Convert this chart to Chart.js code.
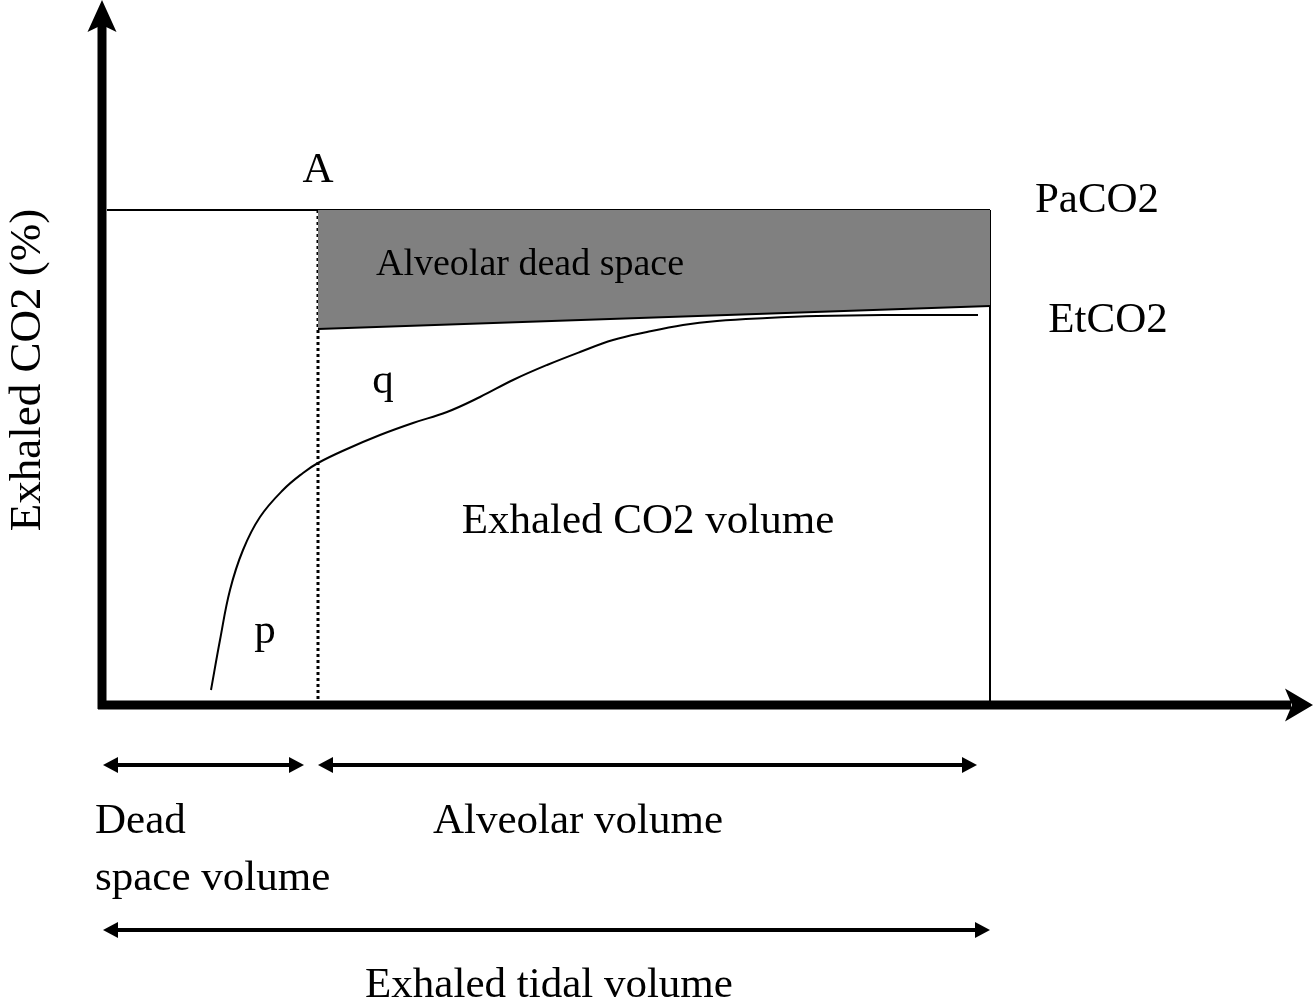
<!DOCTYPE html>
<html>
<head>
<title>exhaled_co2_diagram</title>
<script src="https://cdn.jsdelivr.net/npm/chart.js"></script>
<style>
    body { margin: 0; background: #fff; }
    #wrap { width: 1313px; height: 1000px; }
</style>
</head>
<body>
<div id="wrap"><canvas id="chartCanvas"></canvas></div>
<script>
// exhaled volume (x) vs exhaled CO2 (y), arbitrary units
const curveVolume = [11.1, 12.0, 13.0, 14.3, 16.0, 18.3, 20.3, 21.8, 24.7, 28.0, 31.3, 34.7, 38.0, 41.3, 44.7, 48.0, 51.3, 54.7, 58.3, 61.7, 66.7, 71.7, 78.3, 87.8];
const curveCO2    = [1.5, 6.5, 11.5, 15.5, 18.8, 21.5, 23.2, 24.2, 25.6, 27.0, 28.2, 29.3, 30.8, 32.5, 34.0, 35.3, 36.5, 37.3, 38.0, 38.4, 38.7, 38.9, 39.0, 39.0];

const deadSpaceVolume = 21.8;
const tidalVolume = 89;
const paCO2 = 49.5;
const etCO2Edge = [37.6, 39.9];   // lower edge of the alveolar dead space, start / end

// volume spans shown with double arrows under the axis
const spanFrom = [0.3, 21.8, 0.3];
const spanTo   = [20.4, 87.7, 89];

const axisTitle = 'Exhaled CO2 (%)';

const chartCanvas = document.getElementById('chartCanvas');
const FONT = '"Liberation Serif", "Times New Roman", serif';

function line(points, extra) {
    return Object.assign({
        data: points,
        showLine: true,
        borderColor: '#000',
        borderWidth: 2,
        pointRadius: 0,
        fill: false,
        clip: false
    }, extra);
}

function arrowHead(ctx, tx, ty, dx, dy, len, half, notch) {
    // dx, dy: unit direction the arrow points to
    const bx = tx - dx * len, by = ty - dy * len;
    const nx = -dy, ny = dx;
    ctx.beginPath();
    ctx.moveTo(tx, ty);
    ctx.lineTo(bx + nx * half, by + ny * half);
    ctx.lineTo(tx - dx * (len - notch), ty - dy * (len - notch));
    ctx.lineTo(bx - nx * half, by - ny * half);
    ctx.closePath();
    ctx.fill();
}

const diagramPlugin = {
    id: 'diagram',
    afterDatasetsDraw(chart) {
        const { ctx, scales: { x, y } } = chart;
        ctx.save();
        ctx.fillStyle = '#000';
        ctx.strokeStyle = '#000';

        // axes
        const ax = x.getPixelForValue(0.2);
        const ay = y.getPixelForValue(0);
        const yTip = y.getPixelForValue(70.5);
        const xTip = x.getPixelForValue(121.3);
        ctx.lineWidth = 9;
        ctx.beginPath();
        ctx.moveTo(ax, ay + 4);
        ctx.lineTo(ax, yTip + 25);
        ctx.stroke();
        arrowHead(ctx, ax, yTip, 0, -1, 32, 14.5, 7);
        ctx.beginPath();
        ctx.moveTo(ax - 4, ay);
        ctx.lineTo(xTip - 22, ay);
        ctx.stroke();
        arrowHead(ctx, xTip, ay, 1, 0, 28, 16.5, 7);

        // volume span arrows
        const rows = [-6, -6, -22.5];
        ctx.lineWidth = 4;
        spanFrom.forEach((v, i) => {
            const x0 = x.getPixelForValue(v), x1 = x.getPixelForValue(spanTo[i]);
            const py = y.getPixelForValue(rows[i]);
            ctx.beginPath();
            ctx.moveTo(x0 + 10, py);
            ctx.lineTo(x1 - 10, py);
            ctx.stroke();
            arrowHead(ctx, x0, py, -1, 0, 15, 8, 0);
            arrowHead(ctx, x1, py, 1, 0, 15, 8, 0);
        });

        // labels
        const text = (str, vx, vy, align, size) => {
            ctx.font = (size || 43) + 'px ' + FONT;
            ctx.textAlign = align;
            ctx.textBaseline = 'alphabetic';
            ctx.fillText(str, x.getPixelForValue(vx), y.getPixelForValue(vy));
        };
        text('A', deadSpaceVolume, 52.3, 'center');
        text('PaCO2', 99.7, 49.3, 'center');
        text('EtCO2', 100.8, 37.3, 'center');
        text('Alveolar dead space', 43, 43, 'center', 38);
        text('q', 28.3, 31.2, 'center');
        text('Exhaled CO2 volume', 54.8, 17.2, 'center');
        text('p', 16.5, 6.2, 'center');
        text('Dead', -0.5, -12.8, 'left');
        text('space volume', -0.5, -18.5, 'left');
        text('Alveolar volume', 47.8, -12.8, 'center');
        text('Exhaled tidal volume', 44.9, -29.2, 'center');

        // y axis title
        ctx.translate(40, y.getPixelForValue(33.5));
        ctx.rotate(-Math.PI / 2);
        ctx.font = '45px ' + FONT;
        ctx.textAlign = 'center';
        ctx.fillText(axisTitle, 0, 0);
        ctx.restore();
    }
};

const chart = new Chart(chartCanvas, {
    type: 'scatter',
    data: {
        datasets: [
            // alveolar dead space (grey area between EtCO2 edge and PaCO2)
            line([{ x: deadSpaceVolume, y: etCO2Edge[0] }, { x: tidalVolume, y: etCO2Edge[1] }],
                { fill: { value: paCO2 }, backgroundColor: '#808080' }),
            // PaCO2 level
            line([{ x: 0.7, y: paCO2 }, { x: tidalVolume, y: paCO2 }]),
            // end of expiration
            line([{ x: tidalVolume, y: paCO2 }, { x: tidalVolume, y: 0.4 }]),
            // dead space / alveolar boundary
            line([{ x: deadSpaceVolume, y: paCO2 }, { x: deadSpaceVolume, y: 0.4 }],
                { borderWidth: 3, borderDash: [3, 3] }),
            // capnogram
            line(curveVolume.map((v, i) => ({ x: v, y: curveCO2[i] })),
                { tension: 0.4 })
        ]
    },
    options: {
        responsive: true,
        maintainAspectRatio: false,
        animation: false,
        layout: { padding: { left: 100, right: 13, top: 5, bottom: 295 } },
        plugins: { legend: { display: false }, tooltip: { enabled: false } },
        scales: {
            x: { type: 'linear', min: 0, max: 120, display: false },
            y: { type: 'linear', min: 0, max: 70, display: false }
        }
    },
    plugins: [diagramPlugin]
});
</script>
</body>
</html>
